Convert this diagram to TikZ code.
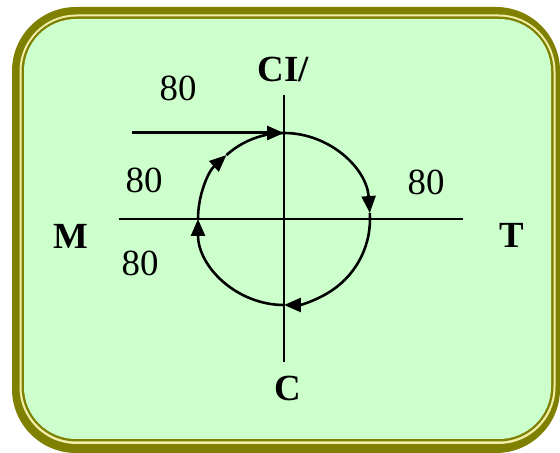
\documentclass[tikz,border=0pt]{standalone}
\usepackage{fontspec}
\setmainfont{Liberation Serif}
\usetikzlibrary{arrows.meta}
\definecolor{bandolive}{RGB}{128,128,0}
\definecolor{paleyel}{RGB}{240,240,170}
\definecolor{mint}{RGB}{204,255,204}
\tikzset{
  axis/.style={line width=2.6pt, black},
  ring/.style={line width=2.6pt, black},
  tipped/.style={-{Triangle[length=17pt,width=14pt]}},
  num/.style={font=\fontsize{37}{40}\selectfont, inner sep=0pt},
  lab/.style={font=\fontsize{37}{40}\selectfont\bfseries, inner sep=0pt},
}
\begin{document}
\begin{tikzpicture}[x=1bp,y=1bp]
\useasboundingbox (0,0) rectangle (560,453);
% frame
\fill[bandolive, rounded corners=64bp] (12,0) rectangle (560,446);
\fill[paleyel, rounded corners=57bp] (19.5,9) rectangle (555.5,438.5);
\fill[bandolive, rounded corners=55bp] (21.5,11.5) rectangle (553.5,436.5);
\fill[mint, rounded corners=52bp] (24,14) rectangle (551,434);
% axes
\coordinate (O) at (284,234);
\coordinate (vtop) at (284,358);
\coordinate (vbot) at (284,91);
\coordinate (hl) at (119,234);
\coordinate (hr) at (463,234);
\draw[axis] (vtop) -- (vbot);
\draw[axis] (hl) -- (hr);
% circle with arrows (clockwise)
\draw[ring, tipped] (O) ++(90:86) arc[start angle=90, end angle=4, radius=86];
\draw[ring, tipped] (O) ++(4:86) arc[start angle=4, end angle=-90, radius=86];
\draw[ring, tipped] (O) ++(-90:86) arc[start angle=-90, end angle=-180, radius=86];
\draw[ring, tipped] (O) ++(180:86) arc[start angle=180, end angle=132, radius=86];
\draw[ring] (O) ++(132:86) arc[start angle=132, end angle=90, radius=86];
% incoming arrow
\coordinate (instart) at (132,320);
\coordinate (ctop) at (284,320);
\draw[line width=3pt, tipped] (instart) -- (ctop);
% labels
\node[lab] (ci) at (283,384) {CI/};
\node[lab] (c) at (288,65) {C};
\node[lab] (m) at (71,217) {M};
\node[lab] (t) at (512,218) {T};
\node[num] (n1) at (178,365) {80};
\node[num] (n2) at (144,273) {80};
\node[num] (n3) at (140,190) {80};
\node[num] (n4) at (426,271) {80};
\end{tikzpicture}
\end{document}
